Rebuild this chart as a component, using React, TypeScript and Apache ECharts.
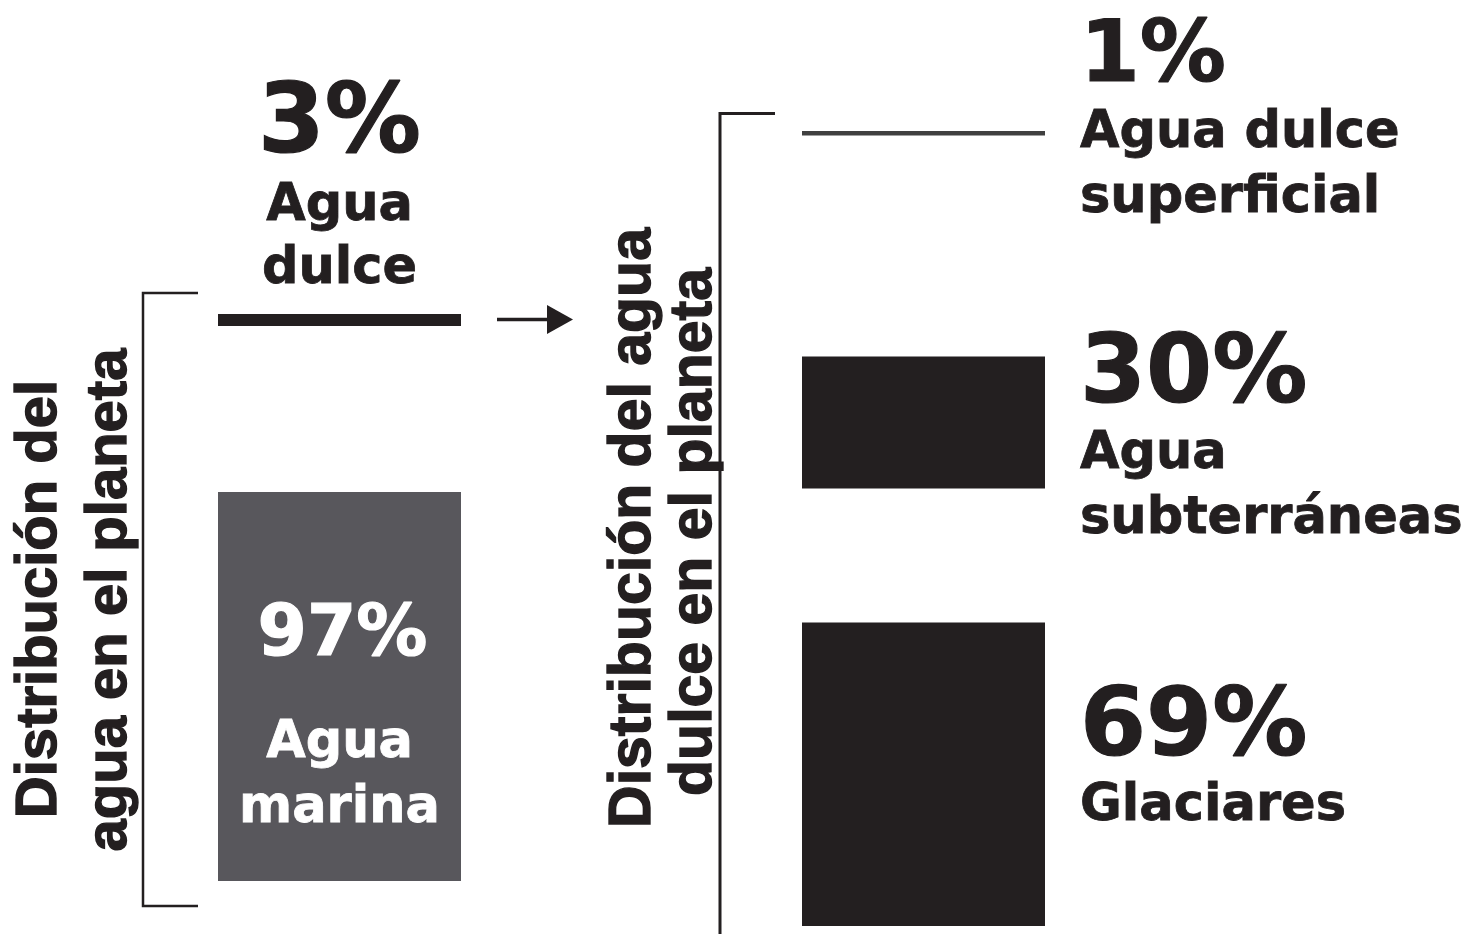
import React, { useEffect, useRef } from "react";
import * as echarts from "echarts";

// ---------- data ----------
const LEFT_CATEGORIES = ["Agua marina", "Agua dulce"];
const LEFT_VALUES = [97, 3];
const LEFT_LABEL_LINES = [["Agua", "marina"], ["Agua", "dulce"]];

const RIGHT_CATEGORIES = ["Glaciares", "Agua subterráneas", "Agua dulce superficial"];
const RIGHT_VALUES = [69, 30, 1];
const RIGHT_LABEL_LINES = [["Glaciares"], ["Agua", "subterráneas"], ["Agua dulce", "superficial"]];

const LEFT_TITLE = ["Distribución del", "agua en el planeta"];
const RIGHT_TITLE = ["Distribución del agua", "dulce en el planeta"];

// ---------- styles / layout ----------
const INK = "#231f20";
const LEFT_COLORS = ["#58575c", INK];
const RIGHT_COLORS = [INK, INK, "#404040"];
const LEFT_GAPS = [166];
const RIGHT_GAPS = [134, 221];

const LEFT_GRID = { left: 218, width: 243, bottom: 53, height: 401 };
const RIGHT_GRID = { left: 802, width: 243, bottom: 8, height: 440 };

const LABEL_FONT = '"DejaVu Sans", Verdana, sans-serif';
const TITLE_FONT = '"Liberation Sans", Arial, sans-serif';

// label layout: percent baseline/size, name baselines, colour
const LEFT_LABEL_LAYOUT = [
  { pctBase: 655, pctSize: 71, nameBase: [757, 822], fill: "#ffffff", dx: 3 },
  { pctBase: 152, pctSize: 96, nameBase: [220, 283], fill: INK, dx: 0 },
];
const RIGHT_LABEL_LAYOUT = [
  { pctBase: 755, pctSize: 95, nameBase: [820], fill: INK },
  { pctBase: 402, pctSize: 95, nameBase: [468, 533], fill: INK },
  { pctBase: 81, pctSize: 86, nameBase: [147, 212], fill: INK },
];
const NAME_SIZE = 51;
const RIGHT_LABEL_X = 1080;

function makeRenderItem(values: number[], gaps: number[], colors: string[]) {
  return (params: any, api: any) => {
    const i = params.dataIndex;
    const cs = params.coordSys;
    let bottom = api.coord([0, 0])[1];
    for (let k = 0; k < i; k++) bottom -= api.size([0, values[k]])[1] + gaps[k];
    const h = api.size([0, api.value(1)])[1];
    return {
      type: "rect",
      shape: { x: cs.x, y: bottom - h, width: cs.width, height: h },
      style: { fill: colors[i] },
    };
  };
}

function text(
  content: string,
  x: number,
  baseline: number,
  size: number,
  fill: string,
  align: string,
  family: string,
  weightStroke: number
) {
  return {
    type: "text",
    x,
    y: baseline - 0.347 * size,
    z: 100,
    silent: true,
    style: {
      text: content,
      fontSize: size,
      fontWeight: "bold",
      fontFamily: family,
      lineHeight: size,
      fill,
      stroke: fill,
      lineWidth: weightStroke,
      textAlign: align,
      textVerticalAlign: "middle",
      align,
      verticalAlign: "middle",
    },
  };
}

function rotatedText(content: string, baselineX: number, centerY: number, size: number) {
  return {
    type: "text",
    x: baselineX - 0.347 * size,
    y: centerY,
    rotation: Math.PI / 2,
    z: 100,
    silent: true,
    style: {
      text: content,
      fontSize: size,
      fontWeight: "bold",
      fontFamily: TITLE_FONT,
      lineHeight: size,
      fill: INK,
      stroke: INK,
      lineWidth: 1.4,
      textAlign: "center",
      textVerticalAlign: "middle",
      align: "center",
      verticalAlign: "middle",
    },
  };
}

export default function App() {
  const ref = useRef<HTMLDivElement>(null);

  useEffect(() => {
    if (!ref.current) return;
    const chart = echarts.init(ref.current, undefined, { renderer: "svg" });

    const graphics: any[] = [];
    const leftCenter = LEFT_GRID.left + LEFT_GRID.width / 2;

    LEFT_VALUES.forEach((v, i) => {
      const lay = LEFT_LABEL_LAYOUT[i];
      graphics.push(
        text(`${v}%`, leftCenter + lay.dx, lay.pctBase, lay.pctSize, lay.fill, "center", LABEL_FONT, 1.2)
      );
      LEFT_LABEL_LINES[i].forEach((line, j) => {
        graphics.push(text(line, leftCenter, lay.nameBase[j], NAME_SIZE, lay.fill, "center", LABEL_FONT, 0.8));
      });
    });
    RIGHT_VALUES.forEach((v, i) => {
      const lay = RIGHT_LABEL_LAYOUT[i];
      graphics.push(text(`${v}%`, RIGHT_LABEL_X, lay.pctBase, lay.pctSize, lay.fill, "left", LABEL_FONT, 1.2));
      RIGHT_LABEL_LINES[i].forEach((line, j) => {
        graphics.push(text(line, RIGHT_LABEL_X, lay.nameBase[j], NAME_SIZE, lay.fill, "left", LABEL_FONT, 0.8));
      });
    });

    // titles
    graphics.push(rotatedText(LEFT_TITLE[0], 56, 599, 58));
    graphics.push(rotatedText(LEFT_TITLE[1], 126, 600, 58));
    graphics.push(rotatedText(RIGHT_TITLE[0], 650, 528, 59));
    graphics.push(rotatedText(RIGHT_TITLE[1], 711, 532, 59));

    // brackets
    graphics.push({
      type: "polyline",
      z: 100,
      silent: true,
      shape: { points: [[198, 293], [143, 293], [143, 906], [198, 906]] },
      style: { stroke: INK, lineWidth: 2.5, fill: "none" },
    });
    graphics.push({
      type: "polyline",
      z: 100,
      silent: true,
      shape: { points: [[775, 113.5], [720, 113.5], [720, 940]] },
      style: { stroke: INK, lineWidth: 3, fill: "none" },
    });

    // arrow
    graphics.push({
      type: "line",
      z: 100,
      silent: true,
      shape: { x1: 497, y1: 319.5, x2: 552, y2: 319.5 },
      style: { stroke: INK, lineWidth: 3.5 },
    });
    graphics.push({
      type: "polygon",
      z: 100,
      silent: true,
      shape: { points: [[547, 305], [573, 319.5], [547, 334]] },
      style: { fill: INK },
    });

    chart.setOption({
      animation: false,
      backgroundColor: "#ffffff",
      grid: [
        { ...LEFT_GRID, containLabel: false },
        { ...RIGHT_GRID, containLabel: false },
      ],
      xAxis: [
        { gridIndex: 0, type: "value", min: 0, max: 1, show: false },
        { gridIndex: 1, type: "value", min: 0, max: 1, show: false },
      ],
      yAxis: [
        { gridIndex: 0, type: "value", min: 0, max: 100, show: false },
        { gridIndex: 1, type: "value", min: 0, max: 100, show: false },
      ],
      series: [
        {
          type: "custom",
          name: "Distribución del agua en el planeta",
          xAxisIndex: 0,
          yAxisIndex: 0,
          clip: false,
          encode: { x: 0, y: 1 },
          data: LEFT_VALUES.map((v, i) => ({ name: LEFT_CATEGORIES[i], value: [0, v] })),
          renderItem: makeRenderItem(LEFT_VALUES, LEFT_GAPS, LEFT_COLORS),
        },
        {
          type: "custom",
          name: "Distribución del agua dulce en el planeta",
          xAxisIndex: 1,
          yAxisIndex: 1,
          clip: false,
          encode: { x: 0, y: 1 },
          data: RIGHT_VALUES.map((v, i) => ({ name: RIGHT_CATEGORIES[i], value: [0, v] })),
          renderItem: makeRenderItem(RIGHT_VALUES, RIGHT_GAPS, RIGHT_COLORS),
        },
      ],
      graphic: { elements: graphics },
    });

    return () => chart.dispose();
  }, []);

  return (
    <div
      ref={ref}
      style={{ position: "absolute", left: 0, top: 0, width: 1478, height: 934, background: "#fff" }}
    />
  );
}
